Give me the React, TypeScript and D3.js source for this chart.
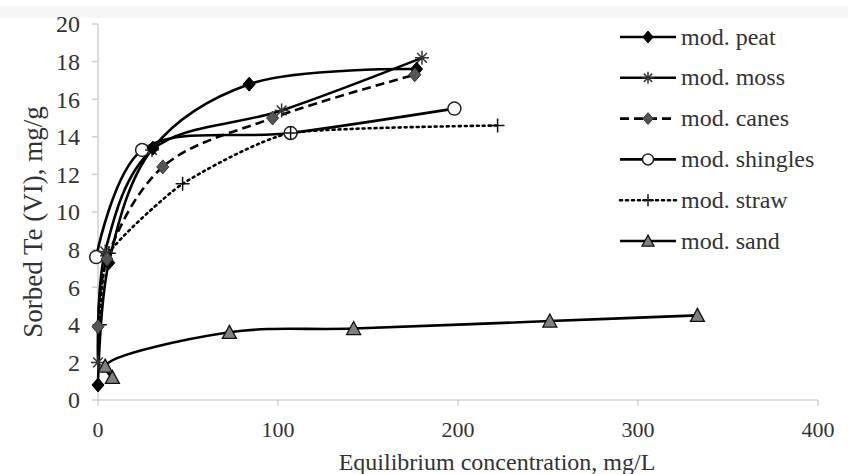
import React from 'react';
import * as d3 from 'd3';

const xTicks = [0, 100, 200, 300, 400];
const yTicks = [0, 2, 4, 6, 8, 10, 12, 14, 16, 18, 20];

const peat: [number, number][] = [[0, 0.8], [6, 7.3], [30.5, 13.4], [84, 16.8], [177, 17.6]];
const moss: [number, number][] = [[0, 2.0], [4, 7.9], [30, 13.3], [102, 15.4], [180, 18.2]];
const canes: [number, number][] = [[0, 3.9], [5, 7.5], [36, 12.4], [97, 15.0], [176, 17.3]];
const shingles: [number, number][] = [[-1, 7.6], [24.5, 13.3], [107, 14.2], [198, 15.5]];
const straw: [number, number][] = [[1, 4.0], [6, 7.8], [47, 11.5], [107, 14.2], [222, 14.6]];
const sand: [number, number][] = [[8, 1.2], [4, 1.8], [73, 3.6], [142, 3.8], [251, 4.2], [333, 4.5]];

const seriesNames = ['mod. peat', 'mod. moss', 'mod. canes', 'mod. shingles', 'mod. straw', 'mod. sand'];

type Sym = 'diamond' | 'star' | 'diamondGray' | 'circle' | 'plus' | 'triangle';
const series: { name: string; data: [number, number][]; sym: Sym; dash: string | null; order: number }[] = [
  { name: seriesNames[0], data: peat, sym: 'diamond', dash: null, order: 3 },
  { name: seriesNames[1], data: moss, sym: 'star', dash: null, order: 2 },
  { name: seriesNames[2], data: canes, sym: 'diamondGray', dash: '9,5', order: 4 },
  { name: seriesNames[3], data: shingles, sym: 'circle', dash: null, order: 0 },
  { name: seriesNames[4], data: straw, sym: 'plus', dash: '2,4', order: 1 },
  { name: seriesNames[5], data: sand, sym: 'triangle', dash: null, order: 5 },
];

const W = 848, H = 474;
const L = 98, R = 818, T = 24, B = 400;
const FONT = '"Liberation Serif", "Times New Roman", serif';
const TXT = '#333';

function Marker({ sym, x, y, s = 1 }: { sym: Sym; x: number; y: number; s?: number }) {
  const k = s;
  switch (sym) {
    case 'diamond':
      return <path d={`M${x},${y - 7 * k}L${x + 6 * k},${y}L${x},${y + 7 * k}L${x - 6 * k},${y}Z`} fill="#000" stroke="#000" strokeWidth={1} />;
    case 'diamondGray':
      return <path d={`M${x},${y - 7 * k}L${x + 6 * k},${y}L${x},${y + 7 * k}L${x - 6 * k},${y}Z`} fill="#555" stroke="#333" strokeWidth={1} />;
    case 'circle':
      return <circle cx={x} cy={y} r={6.5 * k} fill="#fff" stroke="#222" strokeWidth={1.5} />;
    case 'plus':
      return <path d={`M${x - 7 * k},${y}H${x + 7 * k}M${x},${y - 7 * k}V${y + 7 * k}`} stroke="#111" strokeWidth={1.5} fill="none" />;
    case 'star': {
      const r = 7 * k;
      const a = r * 0.7;
      return <path d={`M${x - r},${y}H${x + r}M${x - a},${y - a}L${x + a},${y + a}M${x - a},${y + a}L${x + a},${y - a}M${x},${y - r}V${y + r}`} stroke="#333" strokeWidth={1.5} fill="none" />;
    }
    case 'triangle':
      return <path d={`M${x},${y - 7 * k}L${x + 7 * k},${y + 6 * k}L${x - 7 * k},${y + 6 * k}Z`} fill="#808080" stroke="#111" strokeWidth={1.3} />;
  }
  return null;
}

export default function App() {
  const x = d3.scaleLinear().domain([0, 400]).range([L, R]);
  const y = d3.scaleLinear().domain([0, 20]).range([B, T]);
  const lineCR = d3.line<[number, number]>()
    .x(d => x(d[0]))
    .y(d => y(d[1]))
    .curve(d3.curveCatmullRom.alpha(0.5));
  const lineStraw = d3.line<[number, number]>()
    .x(d => x(d[0]))
    .y(d => y(d[1]))
    .curve(d3.curveCardinal.tension(0.45));

  const legendX = 620, legendY0 = 37, legendDY = 40.8;
  const markerOrder = [...series].sort((a, b) => a.order - b.order);

  return (
    <svg width={W} height={H} style={{ position: 'absolute', left: 0, top: 0, background: '#fff' }}>
      <rect x={0} y={0} width={W} height={H} fill="#fff" />
      <rect x={0} y={6} width={W} height={12} fill="#f6f6f6" />
      {/* axes */}
      <line x1={L} x2={R} y1={B} y2={B} stroke="#d0d0d0" strokeWidth={1.5} />
      <line x1={L} x2={L} y1={T} y2={B} stroke="#d0d0d0" strokeWidth={1.5} />
      {yTicks.map(t => (
        <g key={'y' + t}>
          <line x1={L - 6} x2={L} y1={y(t)} y2={y(t)} stroke="#d0d0d0" strokeWidth={1.5} />
          <text x={80} y={y(t)} dy="0.35em" textAnchor="end" fontFamily={FONT} fontSize={24} fill={TXT}>{t}</text>
        </g>
      ))}
      {xTicks.map(t => (
        <g key={'x' + t}>
          <line x1={x(t)} x2={x(t)} y1={B} y2={B + 6} stroke="#d0d0d0" strokeWidth={1.5} />
          <text x={x(t)} y={437} textAnchor="middle" fontFamily={FONT} fontSize={22} fill={TXT}>{t}</text>
        </g>
      ))}
      <text x={497} y={470} textAnchor="middle" fontFamily={FONT} fontSize={24} fill={TXT}>Equilibrium concentration, mg/L</text>
      <text transform={`translate(42,${222}) rotate(-90)`} textAnchor="middle" fontFamily={FONT} fontSize={27} fill={TXT}>Sorbed Te (VI), mg/g</text>

      {/* lines */}
      {series.map(s => (
        <path key={'l' + s.name} d={(s.sym === 'plus' ? lineStraw(s.data) : lineCR(s.data)) || ''} fill="none" stroke="#000" strokeWidth={2.6}
          strokeDasharray={s.dash || undefined} strokeLinecap={s.sym === 'plus' ? 'round' : 'butt'} />
      ))}
      {/* markers */}
      {markerOrder.map(s => (
        <g key={'m' + s.name}>
          {s.data.map((d, i) => <Marker key={i} sym={s.sym} x={x(d[0])} y={y(d[1])} />)}
        </g>
      ))}

      {/* legend */}
      {series.map((s, i) => {
        const ly = legendY0 + i * legendDY;
        return (
          <g key={'lg' + s.name}>
            <line x1={legendX} x2={legendX + 56} y1={ly} y2={ly} stroke="#000" strokeWidth={2.6}
              strokeDasharray={s.dash || undefined} strokeLinecap={s.sym === 'plus' ? 'round' : 'butt'} />
            <Marker sym={s.sym} x={legendX + 28} y={ly} s={0.85} />
            <text x={legendX + 61} y={ly} dy="0.32em" fontFamily={FONT} fontSize={24} fill={TXT}>{s.name}</text>
          </g>
        );
      })}
    </svg>
  );
}
